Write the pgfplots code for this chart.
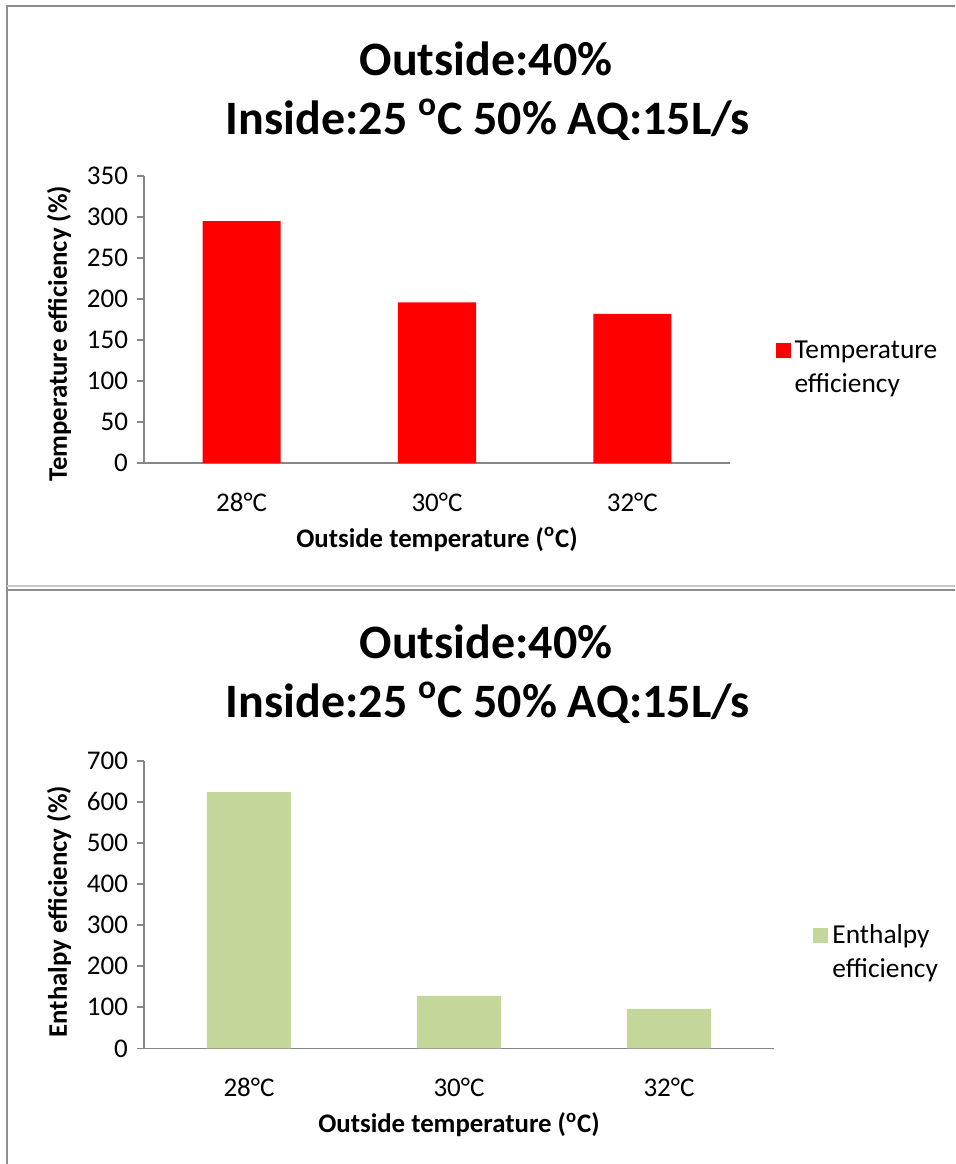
\documentclass[border=0pt]{standalone}
\usepackage{fontspec}
\setmainfont{Carlito}
\usepackage{pgfplots}
\pgfplotsset{compat=1.18}
\definecolor{axgray}{HTML}{868686}
\definecolor{framegray}{HTML}{8E8E8E}
\definecolor{framelight}{HTML}{C8C8C8}
\definecolor{enth}{HTML}{C4D79B}
\pgfplotsset{
  mystyle/.style={
    scale only axis,
    xmin=-0.5, xmax=2.5, ymin=0,
    xtick={0,1,2},
    xticklabels={28°C,30°C,32°C},
    axis x line=bottom, axis y line=left,
    axis line style={-, draw=axgray, line width=0.9pt},
    tick align=outside,
    major tick length=3.5pt,
    ytick style={draw=axgray, line width=0.9pt},
    xtick style={draw=none},
    ybar, bar width=0.4,
    /pgf/number format/assume math mode=true,
    ticklabel style={font=\fontsize{13.5}{16}\selectfont},
    yticklabel style={xshift=-1pt},
    xticklabel style={yshift=-8pt},
    label style={font=\bfseries\fontsize{13.4}{16}\selectfont},
    xlabel style={yshift=-1pt},
    legend style={draw=none, fill=none, inner sep=0pt, anchor=north west,
      font=\fontsize{13.7}{17}\selectfont, cells={align=left},
      /tikz/every even column/.style={column sep=3.5pt}},
    legend image code/.code={\fill[##1] (0pt,5pt) rectangle (7.5pt,12.5pt);},
  }
}
\begin{document}
\begin{tikzpicture}
\useasboundingbox (0pt,0pt) rectangle (477.5pt,-582pt);
% frames
\draw[framegray, line width=1pt] (3.5pt,-582pt) -- (3.5pt,-3pt) -- (477.5pt,-3pt);
\draw[framelight, line width=1pt] (3.5pt,-293.2pt) -- (477.5pt,-293.2pt);
\draw[framegray, line width=1pt] (3.5pt,-582pt) -- (3.5pt,-294.8pt) -- (477.5pt,-294.8pt);
% titles
\node[anchor=base, font=\bfseries\fontsize{24}{29}\selectfont] at (243pt,-37.5pt) {Outside:40\%};
\node[anchor=base, font=\bfseries\fontsize{24}{29}\selectfont] at (244pt,-67pt) {Inside:25 \textsuperscript{o}C 50\% AQ:15L/s};
\node[anchor=base, font=\bfseries\fontsize{24}{29}\selectfont] at (243pt,-329pt) {Outside:40\%};
\node[anchor=base, font=\bfseries\fontsize{24}{29}\selectfont] at (244pt,-358.5pt) {Inside:25 \textsuperscript{o}C 50\% AQ:15L/s};

\begin{axis}[mystyle,
  at={(72pt,-231.5pt)}, anchor=south west,
  width=293pt, height=143.5pt,
  ymax=350, ytick distance=50,
  ylabel={Temperature efficiency (\%)},
  ylabel style={at={(ticklabel cs:0.45)}, yshift=1pt},
  xlabel={Outside temperature (\textsuperscript{o}C)},
  legend style={at={(axis description cs:1.077,0.44)}},
]
\addplot[fill=red, draw=none] coordinates {(0,295) (1,196) (2,182)};
\addlegendentry{Temperature\\efficiency}
\end{axis}

\begin{axis}[mystyle,
  at={(72pt,-524.2pt)}, anchor=south west,
  width=315pt, height=143.8pt,
  ymax=700, ytick distance=100,
  ylabel={Enthalpy efficiency (\%)},
  ylabel style={at={(ticklabel cs:0.475)}, yshift=1pt},
  xlabel={Outside temperature (\textsuperscript{o}C)},
  legend style={at={(axis description cs:1.062,0.445)}},
]
\addplot[fill=enth, draw=none] coordinates {(0,624) (1,128) (2,96)};
\addlegendentry{Enthalpy\\efficiency}
\end{axis}
\end{tikzpicture}
\end{document}
